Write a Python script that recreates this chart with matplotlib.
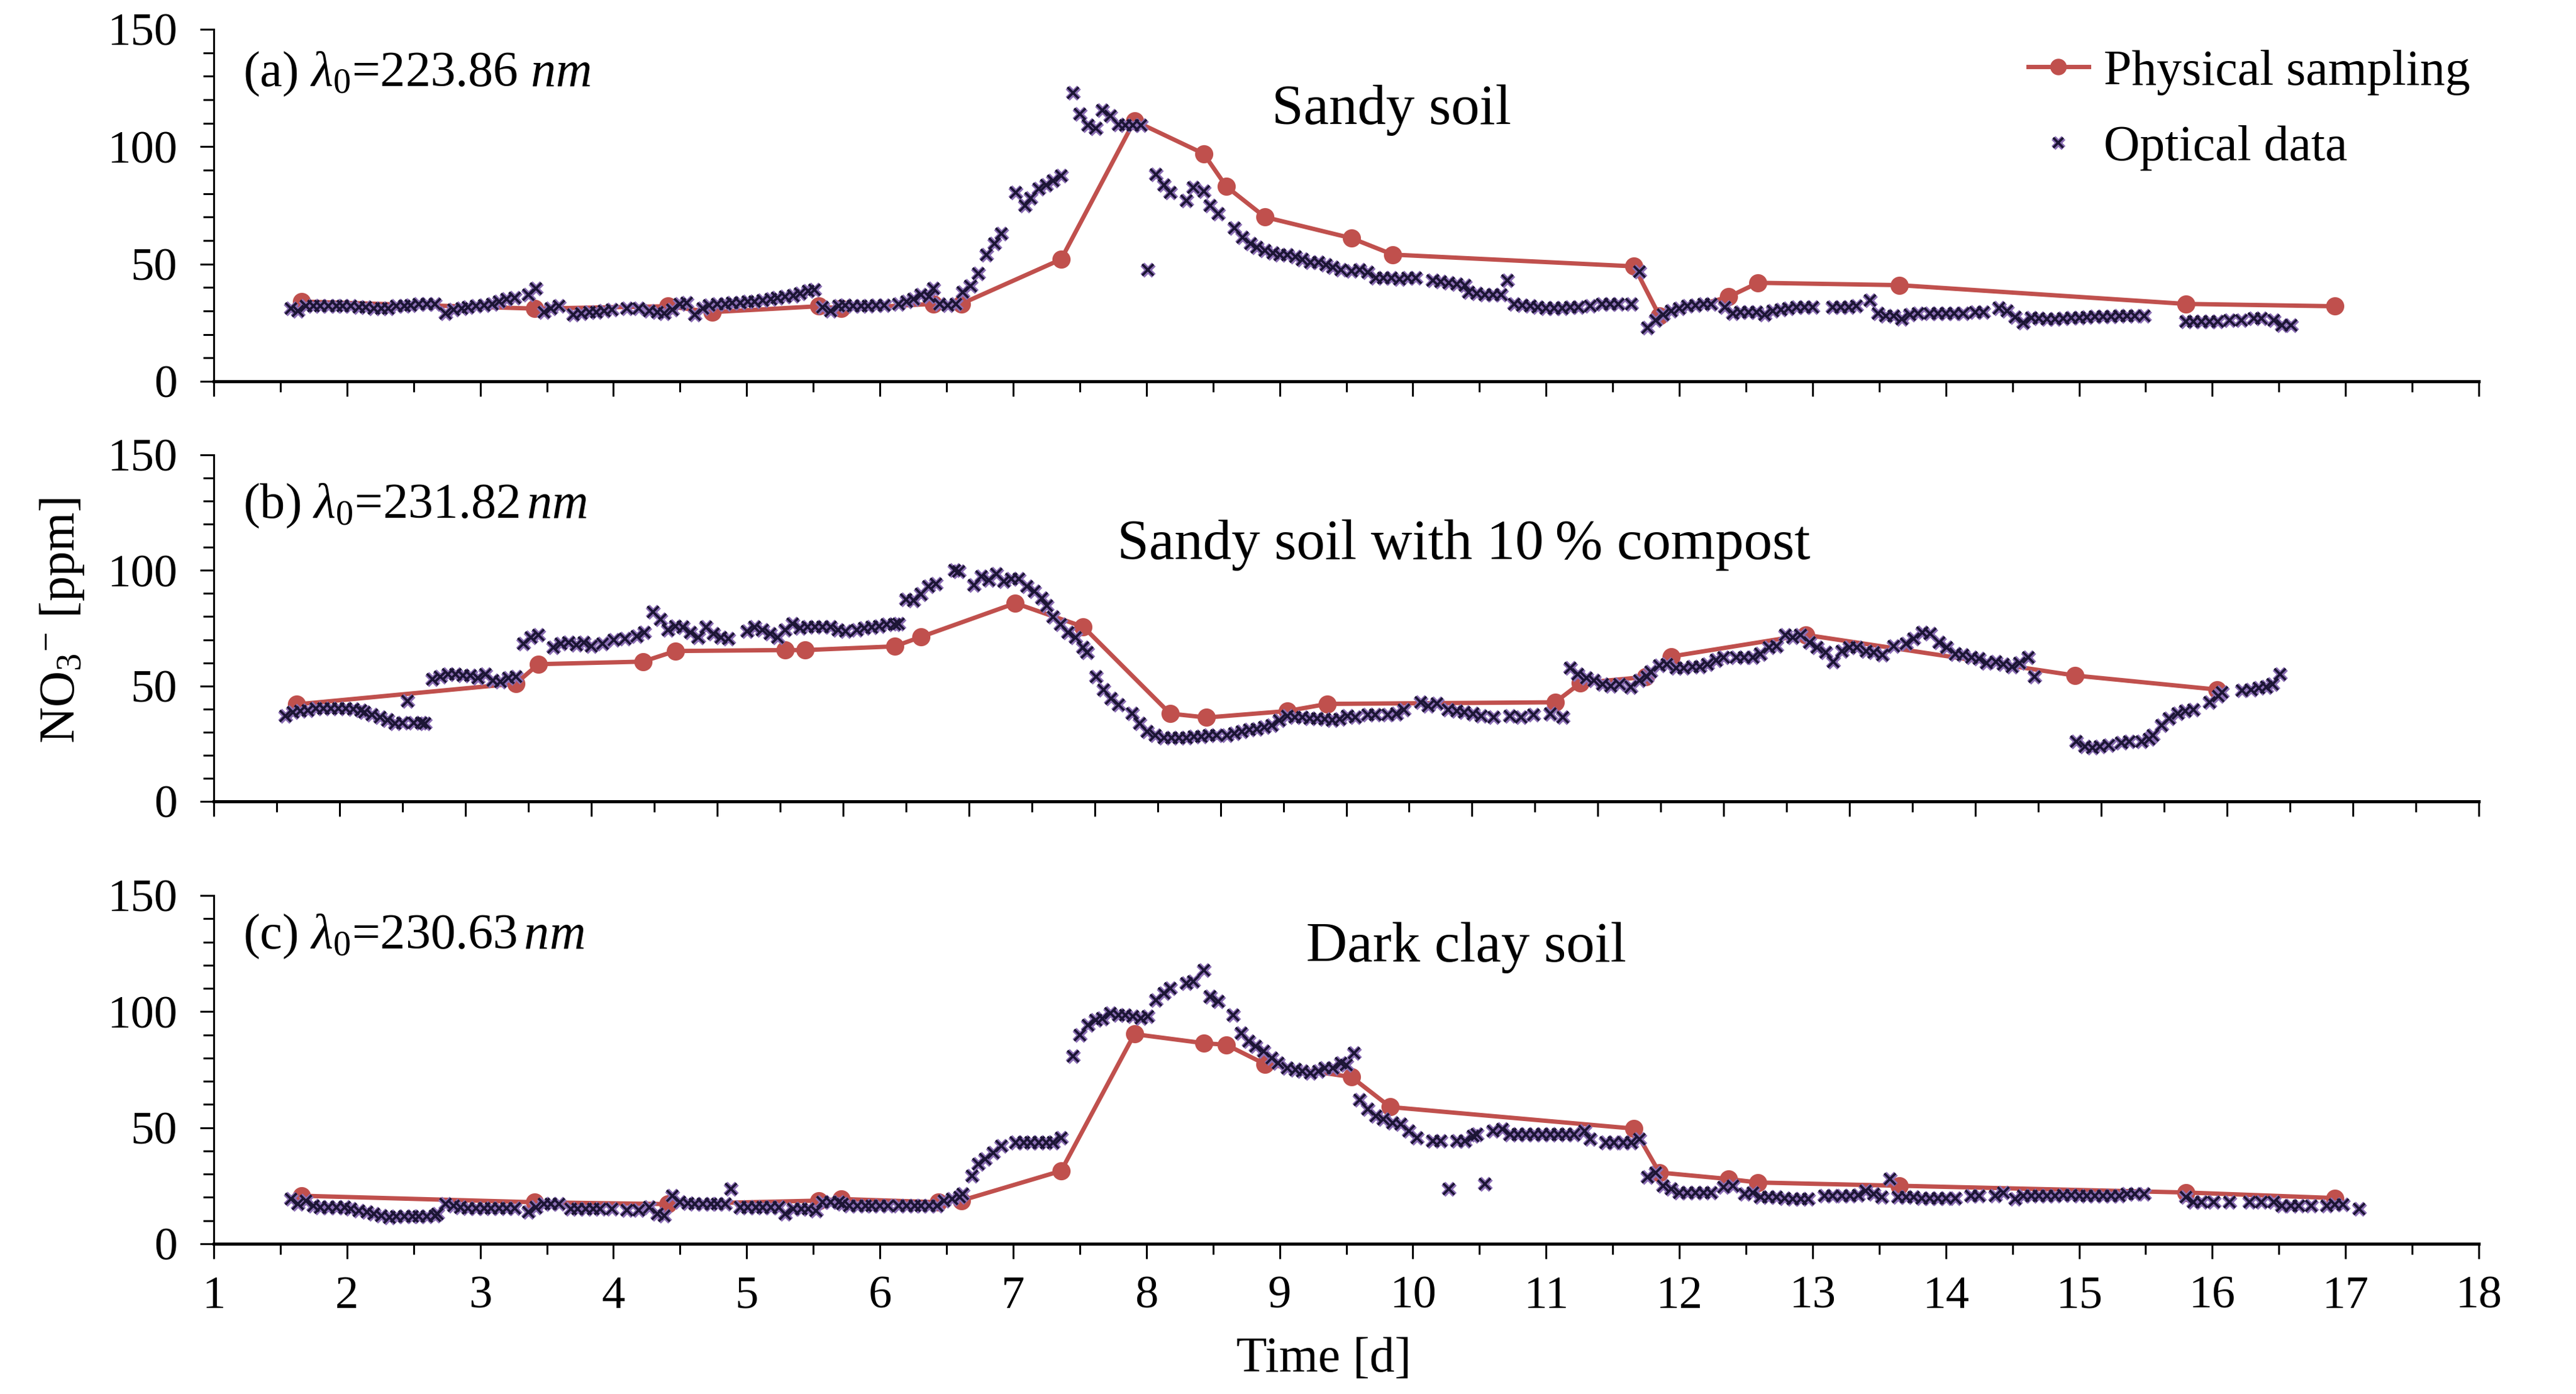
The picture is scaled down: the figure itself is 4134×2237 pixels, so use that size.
import matplotlib
matplotlib.use('Agg')
import matplotlib.pyplot as plt
import matplotlib.patheffects as pe
from matplotlib.ticker import MultipleLocator, NullFormatter

plt.rcParams['font.family'] = ['Liberation Serif', 'DejaVu Serif']
plt.rcParams['mathtext.fontset'] = 'custom'
plt.rcParams['mathtext.rm'] = 'Liberation Serif'
plt.rcParams['mathtext.it'] = 'Liberation Serif:italic'
plt.rcParams['mathtext.bf'] = 'Liberation Serif:bold'

# ---------------- data ----------------
# Physical sampling (days, ppm)
phys_a_days = [1.66, 3.41, 4.41, 4.74, 5.54, 5.71, 6.40, 6.61, 7.36, 7.91, 8.43, 8.60, 8.89, 9.54, 9.85,
               11.66, 11.85, 12.37, 12.59, 13.65, 15.80, 16.92]
phys_a_vals = [34, 31, 32, 29.5, 32, 31, 33, 33, 52, 111, 97, 83, 70, 61, 54,
               49, 28, 36, 42, 41, 33, 32]

phys_b_days = [1.66, 3.40, 3.58, 4.41, 4.67, 5.54, 5.70, 6.41, 6.62, 7.37, 7.91, 8.60, 8.89, 9.53, 9.85,
               11.66, 11.86, 12.38, 12.58, 13.65, 15.79, 16.92]
phys_b_vals = [42, 51, 59.4, 60.5, 65.1, 65.5, 65.5, 67.1, 71.2, 85.8, 75.6, 38, 36.3, 39.1, 42.2,
               42.9, 51.2, 53.9, 62.7, 72.1, 54.5, 48.4]

phys_c_days = [1.66, 3.41, 4.41, 5.54, 5.71, 6.44, 6.61, 7.36, 7.91, 8.43, 8.60, 8.89, 9.54, 9.83,
               11.66, 11.85, 12.37, 12.59, 13.65, 15.80, 16.92]
phys_c_vals = [20.7, 17.9, 17.1, 18.6, 19.3, 17.9, 18.6, 31.4, 90.3, 86.4, 85.7, 77.4, 71.8, 58.9,
               49.6, 30.7, 27.9, 26.4, 25, 22.1, 19.7]

# Optical data (days, ppm)
opt_a_days = [1.58, 1.63, 1.69, 1.75, 1.80, 1.86, 1.92, 1.97, 2.03, 2.09, 2.14, 2.20, 2.26, 2.31, 2.37, 2.43,
              2.48, 2.54, 2.60, 2.66, 2.74, 2.80, 2.86, 2.91, 2.97, 3.03, 3.09, 3.14, 3.20, 3.26, 3.36, 3.42,
              3.48, 3.53, 3.59, 3.70, 3.76, 3.82, 3.87, 3.93, 3.99, 4.10, 4.19, 4.27, 4.33, 4.38, 4.44, 4.50,
              4.55, 4.61, 4.67, 4.72, 4.78, 4.84, 4.89, 4.95, 5.01, 5.06, 5.12, 5.18, 5.23, 5.29, 5.35, 5.40,
              5.46, 5.51, 5.57, 5.63, 5.69, 5.74, 5.80, 5.86, 5.91, 5.97, 6.03, 6.14, 6.20, 6.25, 6.31, 6.37,
              6.40, 6.45, 6.51, 6.57, 6.62, 6.68, 6.74, 6.80, 6.86, 6.91, 7.02, 7.09, 7.13, 7.19, 7.25, 7.30,
              7.36, 7.45, 7.50, 7.56, 7.62, 7.67, 7.73, 7.79, 7.84, 7.90, 7.96, 8.01, 8.07, 8.13, 8.18, 8.30,
              8.35, 8.43, 8.48, 8.54, 8.66, 8.72, 8.78, 8.83, 8.89, 8.95, 9.00, 9.06, 9.12, 9.17, 9.23, 9.29,
              9.35, 9.40, 9.46, 9.54, 9.60, 9.66, 9.72, 9.78, 9.84, 9.90, 9.96, 10.02, 10.15, 10.21, 10.27, 10.33,
              10.39, 10.42, 10.48, 10.54, 10.60, 10.66, 10.71, 10.76, 10.82, 10.88, 10.94, 11.00, 11.06, 11.12,
              11.18, 11.24, 11.33, 11.42, 11.48, 11.54, 11.64, 11.70, 11.76, 11.82, 11.88, 11.94, 12.00, 12.06,
              12.12, 12.18, 12.24, 12.34, 12.40, 12.46, 12.52, 12.58, 12.64, 12.70, 12.76, 12.82, 12.88, 12.94,
              13.00, 13.15, 13.21, 13.27, 13.33, 13.43, 13.49, 13.55, 13.61, 13.67, 13.73, 13.79, 13.88, 13.94,
              14.00, 14.06, 14.13, 14.22, 14.28, 14.40, 14.46, 14.52, 14.58, 14.64, 14.70, 14.76, 14.82, 14.88,
              14.94, 15.00, 15.06, 15.12, 15.18, 15.24, 15.30, 15.36, 15.42, 15.49, 15.80, 15.86, 15.92, 15.98,
              16.04, 16.13, 16.22, 16.31, 16.37, 16.46, 16.52, 16.59]
opt_a_vals = [31, 30, 32, 32, 32, 32, 32, 32, 32, 31.5, 31.5, 31, 31, 31, 32, 32,
              32.5, 33, 33, 33, 29, 30.5, 31, 31.5, 32, 32.5, 33, 34, 35, 35.5, 37, 39.6,
              29.5, 31, 32, 28.5, 29, 29.5, 29.5, 30, 30.5, 31, 31, 30, 29.5, 29, 30.5, 33,
              33.5, 28.5, 31, 32.5, 33, 33, 33.5, 33.5, 34, 34, 34.5, 35, 35.5, 36, 36.5, 37.5,
              38.5, 39, 31.5, 30, 32, 32.5, 32, 32, 32, 32.5, 32.5, 33, 34, 35, 37, 36,
              39.6, 33, 32.5, 33, 38, 40.7, 46, 54, 58.6, 63, 80.4, 74.8, 78, 82, 83.7, 85.4,
              87.6, 122.8, 114, 109, 107.7, 115.6, 113, 109.4, 109, 109, 109, 47.4, 88.2, 83.7, 80.4, 77,
              82.6, 81, 74.8, 71.4, 65.3, 61.4, 58.6, 57, 55.8, 54.7, 54, 54, 53, 51.9, 50.7, 50.7,
              49.6, 48.5, 47.4, 47, 47.4, 46.5, 44, 44, 44, 43.5, 44, 44, 43, 42.5, 42, 41.5,
              41, 38, 37.5, 37, 37, 36.8, 43, 33, 32.5, 32, 31.5, 31.2, 31.2, 31.2,
              31.5, 31.5, 32, 33, 33, 33, 33, 46.8, 22.8, 26, 28.4, 30, 31, 32,
              32.5, 33, 33, 31.7, 29, 29.5, 29.5, 29.5, 28.5, 30, 30.5, 31, 31.5, 31.7,
              31.7, 31.7, 31.7, 31.7, 32, 34.5, 29, 28, 27.8, 26.5, 28.5, 29, 29, 29,
              29, 29, 29, 29.5, 29.5, 31.2, 30, 27.3, 25, 27, 26.7, 26.5, 26.5, 26.7,
              27, 27.2, 27.4, 27.5, 27.6, 27.7, 27.8, 27.8, 28, 27.8, 25.6, 25.6, 25.6, 25.6,
              25.6, 26, 26, 26.7, 26.7, 26, 24, 24]

opt_b_days = [1.57, 1.63, 1.69, 1.75, 1.81, 1.87, 1.93, 1.99, 2.05, 2.11, 2.17, 2.20, 2.26, 2.32, 2.38, 2.44,
              2.50, 2.54, 2.59, 2.65, 2.68, 2.74, 2.80, 2.86, 2.92, 2.98, 3.04, 3.10, 3.16, 3.22, 3.28, 3.34,
              3.40, 3.46, 3.52, 3.58, 3.70, 3.76, 3.82, 3.88, 3.94, 4.00, 4.09, 4.18, 4.27, 4.36, 4.42, 4.49,
              4.55, 4.61, 4.67, 4.73, 4.79, 4.85, 4.91, 4.97, 5.03, 5.09, 5.24, 5.30, 5.36, 5.42, 5.48, 5.54,
              5.60, 5.66, 5.72, 5.78, 5.84, 5.90, 5.96, 6.02, 6.11, 6.17, 6.23, 6.29, 6.35, 6.41, 6.44, 6.50,
              6.56, 6.62, 6.68, 6.74, 6.89, 6.92, 7.04, 7.10, 7.16, 7.22, 7.28, 7.34, 7.40, 7.46, 7.52, 7.58,
              7.62, 7.67, 7.73, 7.79, 7.85, 7.91, 7.94, 8.01, 8.07, 8.13, 8.19, 8.30, 8.36, 8.42, 8.48, 8.55,
              8.61, 8.67, 8.73, 8.79, 8.85, 8.91, 8.97, 9.05, 9.11, 9.17, 9.23, 9.29, 9.35, 9.41, 9.47, 9.53,
              9.59, 9.65, 9.71, 9.77, 9.83, 9.89, 9.95, 10.01, 10.07, 10.17, 10.23, 10.33, 10.40, 10.46, 10.59,
              10.65, 10.72, 10.81, 10.88, 10.94, 11.01, 11.07, 11.17, 11.30, 11.39, 11.49, 11.62, 11.72, 11.78,
              11.84, 11.91, 11.97, 12.04, 12.10, 12.17, 12.26, 12.33, 12.39, 12.42, 12.49, 12.55, 12.62, 12.68,
              12.75, 12.81, 12.87, 12.94, 13.00, 13.10, 13.16, 13.23, 13.29, 13.36, 13.42, 13.49, 13.55, 13.61,
              13.68, 13.74, 13.81, 13.87, 13.94, 14.00, 14.06, 14.13, 14.19, 14.26, 14.35, 14.45, 14.51, 14.58,
              14.64, 14.71, 14.77, 14.84, 14.90, 14.97, 15.03, 15.09, 15.16, 15.22, 15.29, 15.35, 15.42, 15.47,
              15.80, 15.87, 15.93, 15.99, 16.06, 16.16, 16.22, 16.32, 16.38, 16.41, 16.48, 16.54, 16.61, 16.67,
              16.73, 16.86, 16.93, 16.96, 17.12, 17.19, 17.25, 17.31, 17.36, 17.42]
opt_b_vals = [36.9, 38.5, 39, 39.5, 40.2, 40.2, 40.2, 40.2, 40.2, 40, 39.5, 38.5, 37.5, 36.3, 35.2, 33.6,
              34.1, 43.5, 34.1, 34.1, 33.6, 52.8, 53.9, 55, 55, 54.5, 54.5, 53.4, 55, 52.3, 51.7, 53.4,
              53.9, 68.2, 71, 72.1, 66.6, 68.2, 68.8, 67.7, 68.8, 67.2, 68.2, 69.9, 70.4, 71.5, 73.2, 82,
              78.7, 74.3, 75.9, 75.4, 73.2, 71, 75.4, 72.6, 71, 70.4, 73.7, 75.4, 74.3, 72.6, 71, 74.3,
              77, 74.9, 75.6, 75.6, 75.6, 75.6, 74.3, 73.7, 74.3, 74.9, 75.4, 75.9, 76.5, 76.5, 77, 87.5,
              87, 89.7, 93, 94.1, 100.1, 99.5, 93.5, 97.4, 95.7, 98.5, 95.2, 96.3, 96.3, 93, 90.8, 88,
              84.7, 79.8, 76.5, 73.2, 71, 66.6, 64.4, 53.9, 48.4, 44.6, 41.8, 38, 33.6, 30.3, 28.6, 27.5,
              27.5, 27.5, 27.5, 28, 28, 28.5, 28.5, 28.6, 29.5, 30.3, 31, 31.4, 32, 33, 35, 36.9,
              36.5, 36.3, 35.8, 35.8, 35.5, 35.2, 35.5, 36.9, 36.5, 37.4, 37.4, 37.4, 37.9, 39.6, 42.9,
              41.3, 42.4, 39.6, 39, 38.5, 37.9, 36.9, 36.3, 36.9, 36.3, 37.4, 37.9, 36.3, 57.8,
              55, 53.4, 52.3, 50.6, 50, 50.6, 49.5, 52.3, 53.9, 56.1, 58.9, 59.4, 57.8, 57.8,
              58.3, 58.3, 59.4, 61.1, 62.2, 62.2, 62.2, 62.2, 63.8, 66.6, 67.1, 72.1, 71, 72.1,
              68.8, 66.6, 64.4, 60.5, 64.9, 66.6, 66.6, 64.9, 64.4, 63.3, 67.1, 68.2, 70.4, 73.2,
              72.6, 68.8, 66.6, 63.8, 63.3, 62.2, 61.7, 60, 60.5, 59.4, 58.3, 60, 62.2, 53.9,
              25.9, 23.7, 23.1, 23.7, 24.2, 25.3, 25.9, 25.9, 27, 28.6, 33, 35.8, 38, 39,
              39.6, 42.9, 45.7, 47.3, 47.9, 48.4, 49, 49.5, 50.6, 55]

opt_c_days = [1.58, 1.63, 1.69, 1.75, 1.80, 1.86, 1.92, 1.98, 2.03, 2.09, 2.15, 2.20, 2.26, 2.32, 2.37, 2.43,
              2.49, 2.54, 2.60, 2.66, 2.68, 2.74, 2.80, 2.85, 2.91, 2.97, 3.03, 3.08, 3.14, 3.20, 3.26, 3.36,
              3.42, 3.48, 3.53, 3.59, 3.68, 3.73, 3.79, 3.85, 3.90, 3.99, 4.10, 4.19, 4.27, 4.33, 4.38, 4.44,
              4.50, 4.56, 4.61, 4.67, 4.73, 4.78, 4.84, 4.88, 4.95, 5.01, 5.07, 5.12, 5.18, 5.24, 5.29, 5.35,
              5.41, 5.46, 5.52, 5.57, 5.63, 5.69, 5.72, 5.77, 5.83, 5.89, 5.94, 6.00, 6.06, 6.14, 6.20, 6.26,
              6.31, 6.37, 6.43, 6.48, 6.54, 6.60, 6.62, 6.69, 6.74, 6.79, 6.85, 6.91, 7.02, 7.08, 7.13, 7.19,
              7.25, 7.30, 7.36, 7.45, 7.50, 7.56, 7.62, 7.67, 7.73, 7.79, 7.84, 7.90, 7.96, 8.01, 8.07, 8.13,
              8.18, 8.30, 8.35, 8.43, 8.48, 8.54, 8.65, 8.71, 8.77, 8.82, 8.88, 8.94, 8.99, 9.06, 9.12, 9.17,
              9.23, 9.29, 9.34, 9.40, 9.46, 9.50, 9.56, 9.60, 9.66, 9.72, 9.78, 9.85, 9.91, 9.97, 10.03, 10.15,
              10.21, 10.27, 10.33, 10.39, 10.45, 10.48, 10.54, 10.60, 10.67, 10.73, 10.79, 10.85, 10.91, 10.97,
              11.03, 11.09, 11.15, 11.21, 11.29, 11.33, 11.45, 11.51, 11.58, 11.64, 11.70, 11.76, 11.82, 11.88,
              11.94, 12.00, 12.06, 12.12, 12.18, 12.24, 12.33, 12.40, 12.49, 12.55, 12.61, 12.67, 12.73, 12.79,
              12.85, 12.91, 12.97, 13.09, 13.15, 13.22, 13.28, 13.34, 13.40, 13.46, 13.52, 13.58, 13.64, 13.70,
              13.76, 13.82, 13.88, 13.94, 14.00, 14.07, 14.19, 14.25, 14.37, 14.43, 14.52, 14.58, 14.64, 14.70,
              14.76, 14.82, 14.88, 14.94, 15.00, 15.06, 15.12, 15.18, 15.24, 15.30, 15.36, 15.42, 15.49, 15.80,
              15.86, 15.92, 16.01, 16.13, 16.28, 16.37, 16.46, 16.52, 16.59, 16.65, 16.74, 16.86, 16.92, 16.98,
              17.10]
opt_c_vals = [19.3, 17.1, 18.6, 16.4, 15.7, 15.7, 15.7, 15.7, 15, 14.3, 13.6, 12.9, 12.1, 11.4, 11.7, 11.7,
              11.7, 11.7, 11.7, 12, 12.9, 17.1, 16.4, 15.7, 15.4, 15.4, 15.4, 15.4, 15.4, 15.4, 15.4, 13.6,
              15.7, 17.1, 17.1, 17.1, 15, 15, 15, 15, 15, 15, 14.6, 14.6, 15.7, 12.9, 12.1, 20.7,
              17.9, 17.5, 17.1, 17.1, 17.1, 17.1, 17.1, 23.6, 15.7, 15.7, 15.7, 15.7, 15.7, 15.7, 12.9, 15,
              15, 15, 14.3, 17.9, 17.9, 17.9, 17.1, 16.4, 16.4, 16.4, 16.4, 16.4, 16.4, 16.4, 16.4, 16.4,
              16.4, 16.4, 16.4, 18.6, 19.3, 20, 21.4, 29.3, 34.3, 36.4, 39.3, 42.1, 43.6, 43.6, 43.6, 43.6,
              43.6, 43.6, 45.7, 80.7, 90, 94.3, 96.4, 97, 99.3, 98.6, 98.6, 97.9, 97.1, 97.9, 105, 107.9,
              110, 112.1, 112.9, 117.9, 106.4, 104.3, 98.6, 90.7, 87.1, 85, 82.9, 80, 77.9, 75.7, 75, 74.3,
              73.6, 74.3, 75.7, 75.7, 77.9, 77.1, 82.1, 62.1, 57.9, 55, 53.6, 52.1, 51.4, 48.6, 45.7, 44.3,
              44.3, 23.6, 44.3, 44.3, 46.4, 47.1, 25.7, 48.6, 49.3, 47.1, 47.1, 47.1, 47.1, 47.1,
              47.1, 47.1, 47.1, 47.1, 48.6, 45, 43.6, 43.6, 43.6, 43.6, 45, 28.6, 30.7, 25,
              23.6, 22.1, 22.1, 22.1, 22.1, 22.1, 24.3, 25, 21.4, 22.1, 20, 20, 20, 19.5,
              19.3, 19.3, 19.3, 20.7, 20.7, 20.7, 20.7, 21, 22.9, 21.4, 20, 27.9, 20, 20,
              20, 19.5, 19.5, 19.5, 19.5, 19.5, 20.7, 20.7, 20.7, 22.1, 19.3, 20.7, 20.7, 20.7,
              20.7, 20.7, 21, 21, 20.7, 20.7, 20.7, 20.7, 20.7, 20.7, 21.4, 21.4, 21.4, 20,
              17.9, 17.9, 17.9, 17.9, 17.9, 17.9, 17.9, 16.4, 16.4, 16.4, 16.4, 16.4, 17, 17,
              15]

panel_labels = [r'(a) $\lambda_0$=223.86 $nm$', r'(b) $\lambda_0$=231.82$\,nm$', r'(c) $\lambda_0$=230.63$\,nm$']
soil_titles = ['Sandy soil', 'Sandy soil with 10\u2009% compost', 'Dark clay soil']
x_max = [18, 19, 18]
y_ticks = [0, 50, 100, 150]
legend_labels = ['Physical sampling', 'Optical data']

# ---------------- styling ----------------
RED = '#C0504D'
DARK = '#1C1535'
PURP = '#8C6FB5'

fig = plt.figure(figsize=(20.67, 11.185), dpi=200)
W, H = 4134.0, 2237.0
left, right = 343 / W, 3978 / W
rows = [(47, 612), (730, 1286), (1437, 1996)]

phys = [(phys_a_days, phys_a_vals), (phys_b_days, phys_b_vals), (phys_c_days, phys_c_vals)]
opt = [(opt_a_days, opt_a_vals), (opt_b_days, opt_b_vals), (opt_c_days, opt_c_vals)]
title_pos = [(0.520, 0.770), (0.552, 0.739), (0.553, 0.850)]
label_y = [0.873, 0.853, 0.882]

for i, (top, bot) in enumerate(rows):
    ax = fig.add_axes([left, 1 - bot / H, right - left, (bot - top) / H])
    px, pv = phys[i]
    ox, ov = opt[i]
    l1, = ax.plot(px, pv, '-o', color=RED, lw=2.5, ms=9.5, mec=RED, mfc=RED,
                  label=legend_labels[0], zorder=2, clip_on=False)
    l2, = ax.plot(ox, ov, 'x', ls='none', color=DARK, ms=6.5, mew=1.4,
                  label=legend_labels[1], zorder=3, clip_on=False,
                  path_effects=[pe.Stroke(linewidth=3.2, foreground=PURP), pe.Normal()])
    ax.set_xlim(1, x_max[i])
    ax.set_ylim(0, 150)
    ax.set_yticks(y_ticks)
    ax.yaxis.set_minor_locator(MultipleLocator(10))
    ax.xaxis.set_major_locator(MultipleLocator(1))
    ax.xaxis.set_minor_locator(MultipleLocator(0.5))
    for s in ['top', 'right']:
        ax.spines[s].set_visible(False)
    ax.spines['left'].set_linewidth(1.1)
    ax.spines['bottom'].set_linewidth(1.8)
    ax.tick_params(axis='y', which='major', direction='out', length=8, width=1.1,
                   labelsize=27, pad=13)
    ax.tick_params(axis='y', which='minor', direction='out', length=6, width=1.1)
    ax.tick_params(axis='x', which='major', direction='out', length=8.5, width=1.1,
                   labelsize=27, pad=10)
    ax.tick_params(axis='x', which='minor', direction='out', length=6, width=1.1)
    if i < 2:
        ax.xaxis.set_major_formatter(NullFormatter())
    ax.text(0.013, label_y[i], panel_labels[i], transform=ax.transAxes, fontsize=29,
            ha='left', va='center')
    ax.text(title_pos[i][0], title_pos[i][1], soil_titles[i], transform=ax.transAxes,
            fontsize=33, ha='center', va='center')
    if i == 0:
        ax.legend(handles=[l1, l2], loc='upper right', bbox_to_anchor=(1.005, 1.0),
                  frameon=False, fontsize=29, handlelength=1.2, handletextpad=0.3,
                  labelspacing=0.6, borderaxespad=0.0, markerscale=0.9)

fig.text(0.024, 0.555, r'NO$_3$$^{-}$ [ppm]', rotation=90, ha='center', va='center', fontsize=29)
fig.text(0.514, 0.025, 'Time [d]', ha='center', va='center', fontsize=29)

fig.savefig('out.png', dpi=200)
